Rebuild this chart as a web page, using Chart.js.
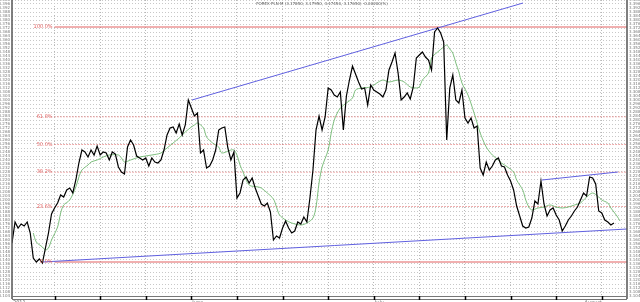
<!DOCTYPE html>
<html>
<head>
<meta charset="utf-8">
<script src="https://cdn.jsdelivr.net/npm/chart.js@4.4.0/dist/chart.umd.min.js"></script>
<style>
  html, body { margin: 0; padding: 0; background: #fff; }
  #wrap { width: 640px; height: 302px; }
</style>
</head>
<body>
<div id="wrap"><canvas id="chart" width="640" height="302"></canvas></div>
<script>
const chartTitle = "FOREX PLN M (3.17850, 3.17950, 3.17450, 3.17650) -0.00200(%)";

// close prices, one per bar
const closePrices = [
  3.157, 3.178, 3.172, 3.176, 3.174, 3.178, 3.167, 3.142, 3.138, 3.141,
  3.137, 3.152, 3.167, 3.186, 3.192, 3.197, 3.205, 3.203, 3.210, 3.212,
  3.207, 3.220, 3.237, 3.250, 3.248, 3.243, 3.250, 3.245, 3.254, 3.245,
  3.248, 3.247, 3.240, 3.248, 3.246, 3.233, 3.228, 3.226, 3.253, 3.260,
  3.255, 3.244, 3.242, 3.240, 3.242, 3.234, 3.242, 3.238, 3.237, 3.240,
  3.250, 3.265, 3.272, 3.273, 3.267, 3.276, 3.265, 3.275, 3.300, 3.292,
  3.284, 3.287, 3.247, 3.250, 3.232, 3.234, 3.240, 3.250, 3.270, 3.272,
  3.273, 3.252, 3.240, 3.248, 3.202, 3.207, 3.220, 3.223, 3.217, 3.222,
  3.212, 3.204, 3.196, 3.194, 3.197, 3.188, 3.160, 3.164, 3.162, 3.172,
  3.179, 3.172, 3.167, 3.169, 3.178, 3.176, 3.183, 3.178, 3.202, 3.230,
  3.270, 3.284, 3.270, 3.283, 3.312, 3.310, 3.305, 3.303, 3.308, 3.270,
  3.304, 3.320, 3.334, 3.326, 3.318, 3.311, 3.312, 3.295, 3.315, 3.310,
  3.308, 3.306, 3.303, 3.310, 3.330, 3.338, 3.347, 3.327, 3.300, 3.303,
  3.307, 3.301, 3.313, 3.342, 3.345, 3.348, 3.343, 3.340, 3.330, 3.368,
  3.372, 3.367, 3.358, 3.260, 3.312, 3.325, 3.300, 3.297, 3.310, 3.282,
  3.277, 3.282, 3.272, 3.274, 3.232, 3.225, 3.238, 3.230, 3.234, 3.240,
  3.242, 3.234, 3.233, 3.225, 3.219, 3.210, 3.194, 3.184, 3.174, 3.172,
  3.173, 3.182, 3.199, 3.196, 3.219, 3.196, 3.184, 3.190, 3.192, 3.185,
  3.180, 3.169, 3.174, 3.180, 3.184, 3.189, 3.193, 3.200, 3.207, 3.204,
  3.223, 3.222, 3.216, 3.189, 3.187, 3.180, 3.178, 3.175, 3.177
];

// moving average (green), read at these bars
const maBars = [
  7, 8, 10, 11, 12, 13, 15, 16, 17, 19, 21, 22, 23, 25, 26, 28, 30, 32, 35, 36,
  37, 39, 42, 46, 49, 51, 53, 55, 57, 59, 60, 61, 63, 64, 66, 68, 69, 72, 73, 74,
  75, 76, 78, 81, 82, 84, 86, 87, 88, 90, 92, 95, 97, 99, 100, 101, 102, 104, 105, 106,
  107, 108, 110, 112, 113, 115, 118, 120, 122, 124, 127, 129, 131, 133, 134, 135, 137, 138, 140, 142,
  143, 144, 145, 146, 147, 148, 150, 152, 153, 154, 156, 158, 160, 161, 163, 165, 166, 168, 169, 170,
  171, 173, 175, 177, 179, 181, 183, 185, 187, 189, 191, 193, 194, 196, 197, 199, 200
];
const maValues = [
  3.167, 3.158, 3.153, 3.150, 3.152, 3.160, 3.173, 3.187, 3.195, 3.200, 3.213, 3.223, 3.230, 3.235, 3.238, 3.240, 3.243, 3.245, 3.245, 3.242,
  3.238, 3.240, 3.243, 3.245, 3.247, 3.252, 3.257, 3.262, 3.268, 3.273, 3.275, 3.277, 3.272, 3.263, 3.257, 3.253, 3.247, 3.250, 3.250, 3.245,
  3.235, 3.228, 3.215, 3.213, 3.212, 3.207, 3.201, 3.193, 3.185, 3.180, 3.177, 3.175, 3.177, 3.182, 3.193, 3.217, 3.233, 3.250, 3.267, 3.280,
  3.287, 3.292, 3.297, 3.302, 3.310, 3.312, 3.313, 3.317, 3.320, 3.318, 3.320, 3.318, 3.313, 3.312, 3.313, 3.320, 3.327, 3.342, 3.348, 3.353,
  3.355, 3.351, 3.347, 3.337, 3.328, 3.317, 3.305, 3.287, 3.277, 3.267, 3.253, 3.245, 3.240, 3.237, 3.233, 3.228, 3.220, 3.210, 3.200, 3.193,
  3.190, 3.192, 3.193, 3.195, 3.193, 3.192, 3.193, 3.195, 3.197, 3.203, 3.207, 3.203, 3.200, 3.197, 3.192, 3.184, 3.179
];

// trend lines (blue)
const trendStartBars = [10, 59.2, 174.3];
const trendStartValues = [3.138, 3.300, 3.220];
const trendEndBars = [202.3, 168.1, 199.3];
const trendEndValues = [3.171, 3.397, 3.228];

// fibonacci levels
const fibLabels = ["100.0%", "61.8%", "50.0%", "38.2%", "23.6%", "0.0%"];
const fibValues = [3.373, 3.2832, 3.2555, 3.2278, 3.1935, 3.138];
const fibSolid = [true, false, false, false, false, true];
const fibStartBar = 14;

// axis
const weekTickBars = [14, 29, 44, 59, 74, 89, 104, 119, 134, 149, 164, 179, 194];
const monthLabels = ["2011", "June", "July", "August"];
const monthBars = [0, 59, 119, 188];
const barMin = 0;
const barMax = 202.3;
const priceMin = 3.104;
const priceMax = 3.400;
const priceStep = 0.004;

const FIB_RED = "rgb(226,96,96)";
const TREND_BLUE = "rgb(96,96,224)";
const MA_GREEN = "rgb(96,176,96)";

const datasets = [];

datasets.push({
  label: "close",
  data: closePrices.map((v, i) => ({ x: i, y: v })),
  borderColor: "#000",
  borderWidth: 1.2,
  pointRadius: 0,
  order: 0,
});

datasets.push({
  label: "ma",
  data: maBars.map((b, k) => ({ x: b, y: maValues[k] })),
  borderColor: MA_GREEN,
  borderWidth: 0.8,
  pointRadius: 0,
  tension: 0.3,
  order: 1,
});

for (let k = 0; k < trendStartBars.length; k++) {
  datasets.push({
    label: "trend" + k,
    data: [
      { x: trendStartBars[k], y: trendStartValues[k] },
      { x: trendEndBars[k], y: trendEndValues[k] },
    ],
    borderColor: TREND_BLUE,
    borderWidth: 1,
    pointRadius: 0,
    order: 2,
  });
}

for (let k = 0; k < fibValues.length; k++) {
  datasets.push({
    label: fibLabels[k],
    data: [
      { x: fibStartBar, y: fibValues[k] },
      { x: barMax, y: fibValues[k] },
    ],
    borderColor: FIB_RED,
    borderWidth: 1,
    borderDash: fibSolid[k] ? [] : [1, 2],
    pointRadius: 0,
    order: 3,
  });
}

const decorations = {
  id: "decorations",
  afterDraw(chart) {
    const { ctx, chartArea, scales } = chart;
    const xs = scales.x;
    const ys = scales.y;
    ctx.save();

    // side axes
    ctx.strokeStyle = "#555";
    ctx.lineWidth = 1.5;
    ctx.beginPath();
    ctx.moveTo(chartArea.left, 0);
    ctx.lineTo(chartArea.left, chartArea.bottom + 3);
    ctx.moveTo(chartArea.right, 0);
    ctx.lineTo(chartArea.right, chartArea.bottom + 3);
    ctx.stroke();

    // bottom strip
    ctx.lineWidth = 1;
    ctx.strokeStyle = "#777";
    ctx.strokeRect(chartArea.left + 0.5, chartArea.bottom + 0.5, chartArea.right - chartArea.left - 1, 3);
    ctx.strokeStyle = "#000";
    ctx.lineWidth = 1.5;
    ctx.beginPath();
    for (const b of weekTickBars) {
      const px = Math.round(xs.getPixelForValue(b)) + 0.5;
      ctx.moveTo(px, chartArea.bottom);
      ctx.lineTo(px, chartArea.bottom + 4);
    }
    ctx.stroke();

    // y tick labels, both sides
    ctx.fillStyle = "#777";
    ctx.font = "4px 'DejaVu Sans'";
    ctx.textBaseline = "middle";
    for (const t of ys.ticks) {
      const py = ys.getPixelForValue(t.value);
      const txt = t.value.toFixed(3);
      ctx.textAlign = "right";
      ctx.fillText(txt, chartArea.left - 2, py);
      ctx.textAlign = "left";
      ctx.fillText(txt, chartArea.right + 2, py);
    }

    // month labels under the strip
    ctx.fillStyle = "#666";
    ctx.font = "5px 'DejaVu Sans'";
    ctx.textAlign = "left";
    ctx.textBaseline = "top";
    monthLabels.forEach((m, k) => {
      ctx.fillText(m, xs.getPixelForValue(monthBars[k]) + 1, chartArea.bottom + 4);
    });

    // fib labels
    ctx.fillStyle = FIB_RED;
    ctx.font = "5px 'DejaVu Sans'";
    ctx.textAlign = "right";
    ctx.textBaseline = "middle";
    const lx = xs.getPixelForValue(fibStartBar) - 2;
    fibLabels.forEach((lab, k) => {
      ctx.fillText(lab, lx, ys.getPixelForValue(fibValues[k]));
    });

    // title
    ctx.fillStyle = "#555";
    ctx.font = "4px 'DejaVu Sans'";
    ctx.textAlign = "center";
    ctx.textBaseline = "middle";
    ctx.fillText(chartTitle, 322, 4);

    ctx.restore();
  },
};

new Chart(document.getElementById("chart"), {
  type: "line",
  data: { datasets },
  options: {
    responsive: false,
    animation: false,
    devicePixelRatio: 1,
    layout: { padding: { left: 12, right: 13, top: 0, bottom: 6 } },
    plugins: { legend: { display: false }, tooltip: { enabled: false } },
    scales: {
      x: {
        type: "linear",
        min: barMin,
        max: barMax,
        afterBuildTicks: (scale) => {
          scale.ticks = weekTickBars.map((b) => ({ value: b }));
        },
        ticks: { display: false },
        grid: { color: "#b8b8b8", lineWidth: 1, drawTicks: false },
        border: { display: false, dash: [1, 2] },
      },
      y: {
        type: "linear",
        min: priceMin,
        max: priceMax,
        ticks: { display: false, stepSize: priceStep },
        grid: { color: "#c8c8c8", lineWidth: 1, drawTicks: false },
        border: { display: false, dash: [1, 2] },
      },
    },
  },
  plugins: [decorations],
});
</script>
</body>
</html>
